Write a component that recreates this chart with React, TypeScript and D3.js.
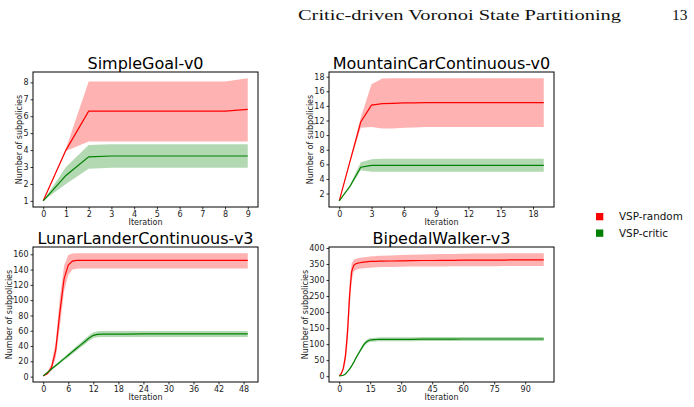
import React, { useEffect, useRef } from "react";
import * as d3 from "d3";

// ---- SimpleGoal-v0 ----
const sgIter = [0, 1, 2, 3, 4, 5, 6, 7, 8, 9];
const sgRandomMean = [1, 4, 6.3, 6.3, 6.3, 6.3, 6.3, 6.3, 6.3, 6.4];
const sgRandomUpper = [1, 4.1, 8.05, 8.05, 8.05, 8.05, 8.05, 8.05, 8.05, 8.25];
const sgRandomLower = [1, 3.95, 4.5, 4.5, 4.5, 4.5, 4.5, 4.5, 4.5, 4.5];
const sgCriticMean = [1, 2.5, 3.6, 3.65, 3.65, 3.65, 3.65, 3.65, 3.65, 3.65];
const sgCriticUpper = [1, 3.0, 4.3, 4.35, 4.35, 4.35, 4.35, 4.35, 4.35, 4.35];
const sgCriticLower = [1, 2.0, 2.9, 2.95, 2.95, 2.95, 2.95, 2.95, 2.95, 2.95];
const sgXTicks = [0, 1, 2, 3, 4, 5, 6, 7, 8, 9];
const sgYTicks = [1, 2, 3, 4, 5, 6, 7, 8];

// ---- MountainCarContinuous-v0 ----
const mcIter = [0, 1, 2, 3, 4, 5, 6, 7, 8, 9, 10, 11, 12, 13, 14, 15, 16, 17, 18, 19];
const mcRandomMean = [1, 6.4, 11.8, 14.1, 14.3, 14.35, 14.4, 14.4, 14.45, 14.45, 14.45, 14.45, 14.45, 14.45, 14.45, 14.45, 14.45, 14.45, 14.45, 14.45];
const mcRandomUpper = [1, 6.6, 12.4, 16.95, 17.75, 17.8, 17.8, 17.8, 17.8, 17.8, 17.8, 17.8, 17.8, 17.8, 17.8, 17.8, 17.8, 17.8, 17.8, 17.8];
const mcRandomLower = [1, 6.2, 11.0, 11.1, 10.9, 10.9, 11.0, 11.05, 11.1, 11.1, 11.1, 11.1, 11.1, 11.1, 11.1, 11.1, 11.1, 11.1, 11.1, 11.1];
const mcCriticMean = [1, 3.0, 5.6, 5.85, 5.85, 5.85, 5.85, 5.85, 5.85, 5.85, 5.85, 5.85, 5.85, 5.85, 5.85, 5.85, 5.85, 5.85, 5.85, 5.85];
const mcCriticUpper = [1, 3.2, 6.3, 6.7, 6.75, 6.75, 6.75, 6.75, 6.75, 6.75, 6.75, 6.75, 6.75, 6.75, 6.75, 6.75, 6.75, 6.75, 6.75, 6.75];
const mcCriticLower = [1, 2.8, 5.2, 5.0, 5.0, 5.0, 5.0, 5.0, 5.0, 5.0, 5.0, 5.0, 5.0, 5.0, 5.0, 5.0, 5.0, 5.0, 5.0, 5.0];
const mcXTicks = [0, 3, 6, 9, 12, 15, 18];
const mcYTicks = [2, 4, 6, 8, 10, 12, 14, 16, 18];

// ---- LunarLanderContinuous-v3 ----
const llIter = [0, 1, 2, 3, 4, 5, 6, 7, 8, 9, 10, 11, 12, 13, 14, 16, 20, 24, 28, 32, 36, 40, 44, 49];
const llRandomMean = [1, 4, 12, 35, 85, 128, 146, 151, 152, 152, 152, 152, 152, 152, 152, 152, 152, 152, 152, 152, 152, 152, 152, 152];
const llRandomUpper = [1, 6, 17, 46, 104, 145, 159, 161, 161.5, 161.5, 161.5, 161.5, 161.5, 161.5, 161.5, 161.5, 161.5, 161.5, 161.5, 161.5, 161.5, 161.5, 161.5, 161.5];
const llRandomLower = [1, 2.5, 8, 25, 66, 112, 133, 140, 141, 141.5, 141.5, 141.5, 141.5, 141.5, 141.5, 141.5, 141.5, 141.5, 141.5, 141.5, 141.5, 141.5, 141.5, 141.5];
const llCriticMean = [1, 5.5, 10, 14.5, 19, 23.5, 28, 32.5, 37, 41.5, 46, 50.5, 54, 55.3, 55.6, 55.7, 55.7, 55.8, 55.8, 55.8, 55.8, 55.8, 55.8, 55.8];
const llCriticUpper = [1, 6, 11, 16, 21, 25.5, 30.5, 35, 40, 44.5, 49.5, 54, 58, 59.3, 59.6, 59.7, 59.7, 59.7, 59.7, 59.7, 59.7, 59.7, 59.7, 59.7];
const llCriticLower = [1, 5, 9, 13, 17, 21.5, 25.5, 30, 34, 38.5, 42.5, 47, 50.5, 51.5, 51.8, 51.8, 51.8, 51.8, 51.8, 51.8, 51.8, 51.8, 51.8, 51.8];
const llXTicks = [0, 6, 12, 18, 24, 30, 36, 42, 48];
const llYTicks = [0, 20, 40, 60, 80, 100, 120, 140, 160];

// ---- BipedalWalker-v3 ----
const bwIter = [0, 1, 2, 3, 4, 5, 6, 7, 8, 9, 10, 11, 12, 13, 14, 15, 16, 17, 18, 19, 20,
  25, 30, 35, 40, 45, 50, 55, 60, 65, 70, 75, 80, 85, 90, 95, 99];
const bwRandomMean = [1, 8, 25, 62, 135, 250, 326, 346, 351, 353, 354, 355, 356, 357, 357.5, 358, 358, 358.5, 358.5, 359, 359,
  359.5, 360, 360.5, 361, 361, 361.5, 361.5, 362, 362, 362, 362.5, 362.5, 363, 363, 363, 363];
const bwRandomUpper = [1, 12, 35, 85, 178, 292, 352, 363, 366, 368, 369, 370, 371, 372, 373, 373.5, 374, 374.5, 375, 375.5, 376,
  377, 378, 379, 380, 380.5, 381, 381.5, 382, 382.5, 383, 383, 383.5, 384, 384, 384, 384];
const bwRandomLower = [1, 5, 16, 42, 98, 205, 298, 326, 332, 334, 335, 336, 337, 337.5, 338, 338.5, 339, 339.5, 340, 340, 340.5,
  341, 341.5, 342, 342, 342.5, 342.5, 343, 343, 343, 343, 343, 343.5, 343.5, 343.5, 343.5, 343.5];
const bwCriticMean = [1, 1.5, 3, 7, 14, 22, 32, 43, 56, 67, 78, 89, 99, 106, 110.5, 113, 113.5, 114, 114.5, 115, 115,
  115, 115, 115, 115.5, 115.5, 115.5, 115.5, 116, 116, 116, 116, 116, 116, 116, 116, 116];
const bwCriticUpper = [1, 2, 4, 8.5, 16, 24.5, 35, 46.5, 60, 71.5, 83, 94.5, 105, 112, 116.5, 119, 119.5, 120, 120.5, 121, 121.5,
  121.5, 121.5, 121.5, 122, 122, 122, 122, 122.5, 122.5, 122.5, 122.5, 122.5, 122.5, 122.5, 122.5, 122.5];
const bwCriticLower = [1, 1, 2, 5.5, 12, 19.5, 29, 39.5, 52, 62.5, 73, 83.5, 93, 100, 104.5, 107, 107.5, 108, 108.5, 109, 109,
  109, 109, 109, 109.5, 109.5, 109.5, 109.5, 110, 110, 110, 110, 110, 110, 110, 110, 110];
const bwXTicks = [0, 15, 30, 45, 60, 75, 90];
const bwYTicks = [0, 50, 100, 150, 200, 250, 300, 350, 400];

const legendLabels = ["VSP-random", "VSP-critic"];
const RED = "#ff0000";
const GREEN = "#008000";

type Band = { mean: number[]; lower: number[]; upper: number[] };
type Panel = {
  title: string;
  iter: number[];
  random: Band;
  critic: Band;
  xTicks: number[];
  yTicks: number[];
  left: number;
  top: number;
};

const panels: Panel[] = [
  {
    title: "SimpleGoal-v0",
    iter: sgIter,
    random: { mean: sgRandomMean, lower: sgRandomLower, upper: sgRandomUpper },
    critic: { mean: sgCriticMean, lower: sgCriticLower, upper: sgCriticUpper },
    xTicks: sgXTicks,
    yTicks: sgYTicks,
    left: 33,
    top: 72,
  },
  {
    title: "MountainCarContinuous-v0",
    iter: mcIter,
    random: { mean: mcRandomMean, lower: mcRandomLower, upper: mcRandomUpper },
    critic: { mean: mcCriticMean, lower: mcCriticLower, upper: mcCriticUpper },
    xTicks: mcXTicks,
    yTicks: mcYTicks,
    left: 329,
    top: 72,
  },
  {
    title: "LunarLanderContinuous-v3",
    iter: llIter,
    random: { mean: llRandomMean, lower: llRandomLower, upper: llRandomUpper },
    critic: { mean: llCriticMean, lower: llCriticLower, upper: llCriticUpper },
    xTicks: llXTicks,
    yTicks: llYTicks,
    left: 33,
    top: 247,
  },
  {
    title: "BipedalWalker-v3",
    iter: bwIter,
    random: { mean: bwRandomMean, lower: bwRandomLower, upper: bwRandomUpper },
    critic: { mean: bwCriticMean, lower: bwCriticLower, upper: bwCriticUpper },
    xTicks: bwXTicks,
    yTicks: bwYTicks,
    left: 329,
    top: 247,
  },
];

const PW = 225; // axes box width
const PH = 135; // axes box height
const FONT = "DejaVu Sans";

const App = () => {
  const svgRef = useRef<SVGSVGElement>(null);

  useEffect(() => {
    const svg = d3.select(svgRef.current);
    svg.selectAll("*").remove();

    // running page header
    svg
      .append("text")
      .attr("x", 298)
      .attr("y", 20)
      .attr("font-family", "Liberation Serif")
      .attr("font-size", 15.5)
      .attr("textLength", 323)
      .attr("lengthAdjust", "spacingAndGlyphs")
      .attr("fill", "#111")
      .text("Critic-driven Voronoi State Partitioning");
    svg
      .append("text")
      .attr("x", 672)
      .attr("y", 20)
      .attr("font-family", "Liberation Serif")
      .attr("font-size", 15.5)
      .attr("fill", "#111")
      .text("13");

    panels.forEach((p) => {
      const g = svg.append("g").attr("transform", `translate(${p.left},${p.top})`);

      // matplotlib-style 5% margins
      const [x0, x1] = d3.extent(p.iter) as [number, number];
      const allY = [...p.random.lower, ...p.random.upper, ...p.critic.lower, ...p.critic.upper];
      const [y0, y1] = d3.extent(allY) as [number, number];
      const xPad = (x1 - x0) * 0.05;
      const yPad = (y1 - y0) * 0.05;

      const x = d3.scaleLinear().domain([x0 - xPad, x1 + xPad]).range([0, PW]);
      const y = d3.scaleLinear().domain([y0 - yPad, y1 + yPad]).range([PH, 0]);

      const drawBand = (b: Band, color: string) => {
        const area = d3
          .area<number>()
          .x((d) => x(d))
          .y0((_, i) => y(b.lower[i]))
          .y1((_, i) => y(b.upper[i]));
        const line = d3
          .line<number>()
          .x((d) => x(d))
          .y((_, i) => y(b.mean[i]));
        g.append("path").datum(p.iter).attr("fill", color).attr("fill-opacity", 0.3).attr("d", area);
        g.append("path")
          .datum(p.iter)
          .attr("fill", "none")
          .attr("stroke", color)
          .attr("stroke-width", 1.2)
          .attr("d", line);
      };
      drawBand(p.random, RED);
      drawBand(p.critic, GREEN);

      // axes
      const xAxis = g
        .append("g")
        .attr("transform", `translate(0,${PH})`)
        .call(d3.axisBottom(x).tickValues(p.xTicks).tickSize(2.5).tickPadding(2).tickFormat(d3.format("d")));
      const yAxis = g
        .append("g")
        .call(d3.axisLeft(y).tickValues(p.yTicks).tickSize(2.5).tickPadding(2).tickFormat(d3.format("d")));
      [xAxis, yAxis].forEach((a) => {
        a.select(".domain").remove();
        a.attr("font-family", FONT).attr("font-size", 8);
        a.selectAll("line").attr("stroke", "#000").attr("stroke-width", 0.8);
        a.selectAll("text").attr("fill", "#222");
      });

      // frame
      g.append("rect")
        .attr("width", PW)
        .attr("height", PH)
        .attr("fill", "none")
        .attr("stroke", "#000")
        .attr("stroke-width", 1);

      // title
      g.append("text")
        .attr("x", PW / 2)
        .attr("y", -3.5)
        .attr("text-anchor", "middle")
        .attr("font-family", FONT)
        .attr("font-size", 16)
        .attr("fill", "#000")
        .text(p.title);

      // axis labels
      g.append("text")
        .attr("x", PW / 2)
        .attr("y", PH + 18)
        .attr("text-anchor", "middle")
        .attr("font-family", FONT)
        .attr("font-size", 8)
        .attr("fill", "#222")
        .text("Iteration");

      // y label sits just left of the widest tick label
      const box = (yAxis.node() as SVGGElement).getBBox();
      const lx = box.x - 1.4;
      g.append("text")
        .attr("transform", `translate(${lx},${PH / 2}) rotate(-90)`)
        .attr("text-anchor", "middle")
        .attr("font-family", FONT)
        .attr("font-size", 8)
        .attr("fill", "#222")
        .text("Number of subpolicies");
    });

    // shared legend
    const legend = svg.append("g").attr("transform", "translate(596,213)");
    [RED, GREEN].forEach((c, i) => {
      legend
        .append("rect")
        .attr("x", 0)
        .attr("y", i * 16.5)
        .attr("width", 7.3)
        .attr("height", 7.3)
        .attr("fill", c);
      legend
        .append("text")
        .attr("x", 23)
        .attr("y", i * 16.5 + 7.4)
        .attr("font-family", FONT)
        .attr("font-size", 10.4)
        .attr("fill", "#111")
        .text(legendLabels[i]);
    });
  }, []);

  return (
    <svg
      ref={svgRef}
      width={694}
      height={407}
      style={{ position: "absolute", left: 0, top: 0, background: "#fff" }}
    />
  );
};

export default App;
